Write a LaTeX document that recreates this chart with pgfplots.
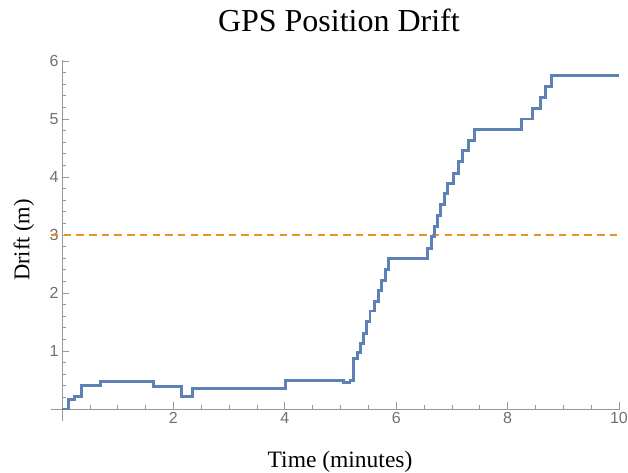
\documentclass[border=0pt]{standalone}
\usepackage{pgfplots}
\pgfplotsset{compat=1.18}
\usepackage{fontspec}
\setmainfont{Liberation Serif}
\newfontfamily\ticksf{Liberation Sans}

\definecolor{mmablue}{HTML}{5E81B5}
\definecolor{mmaorange}{HTML}{E8951F}
\definecolor{axgray}{HTML}{999999}
\definecolor{lblgray}{HTML}{707070}

\begin{document}
\begin{tikzpicture}
\begin{axis}[
  name=ax,
  scale only axis,
  width=569.2pt, height=360.8pt,
  xmin=-0.2, xmax=10.02,
  ymin=-0.2, ymax=6.02,
  axis lines=middle,
  axis line style={-, axgray, line width=0.8pt},
  xtick={2,4,6,8,10},
  ytick={1,2,3,4,5,6},
  minor xtick={0.5,1,1.5,2.5,3,3.5,4.5,5,5.5,6.5,7,7.5,8.5,9,9.5},
  minor ytick={0.2,0.4,0.6,0.8,1.2,1.4,1.6,1.8,2.2,2.4,2.6,2.8,3.2,3.4,3.6,3.8,4.2,4.4,4.6,4.8,5.2,5.4,5.6,5.8},
  tick align=inside,
  major tick length=7pt,
  minor tick length=4pt,
  tick style={axgray, line width=0.7pt},
  /pgf/number format/assume math mode=true,
  tick label style={font=\ticksf\fontsize{16}{16}\selectfont, text=lblgray},
  clip=false,
]

% --- Umbral de 3 m ---------------------------------------------------------
\addplot[mmaorange, line width=2.8pt, dash pattern=on 7.5pt off 5.2pt]
  coordinates {(-0.2,3) (10,3)};

% --- Deriva medida (escalones) ----------------------------------------------
\addplot[const plot, mmablue, line width=2.9pt] coordinates {
  (0,0) (0.11,0.17) (0.22,0.22) (0.35,0.40) (0.69,0.47) (1.65,0.39)
  (2.15,0.22) (2.35,0.35) (4.02,0.49) (5.05,0.45) (5.17,0.49)
  (5.24,0.87) (5.31,0.97) (5.36,1.13) (5.41,1.30) (5.47,1.51)
  (5.53,1.69) (5.61,1.86) (5.68,2.04) (5.74,2.22) (5.80,2.41)
  (5.86,2.59) (6.56,2.77) (6.64,2.97) (6.69,3.14) (6.74,3.33)
  (6.80,3.52) (6.86,3.71) (6.92,3.89) (7.03,4.06) (7.12,4.26)
  (7.19,4.45) (7.30,4.63) (7.40,4.82) (8.25,5.00) (8.44,5.18)
  (8.59,5.37) (8.68,5.56) (8.79,5.75) (10.0,5.75)
};

\node[anchor=base, yshift=28pt, font=\fontsize{32}{32}\selectfont]
  at (rel axis cs:0.506,1) {GPS Position Drift};
\node[anchor=base, yshift=-46.4pt, font=\fontsize{23.5}{23.5}\selectfont]
  at (rel axis cs:0.508,0) {Time (minutes)};
\node[anchor=base, rotate=90, font=\fontsize{22.5}{22.5}\selectfont]
  at ([xshift=-21.6pt]rel axis cs:0,0.5006) {Drift (m)};
\end{axis}
\pgfresetboundingbox
\path ([xshift=-50.9pt,yshift=-51.4pt]ax.south west)
  rectangle ([xshift=7.9pt,yshift=59.8pt]ax.north east);
\end{tikzpicture}
\end{document}
